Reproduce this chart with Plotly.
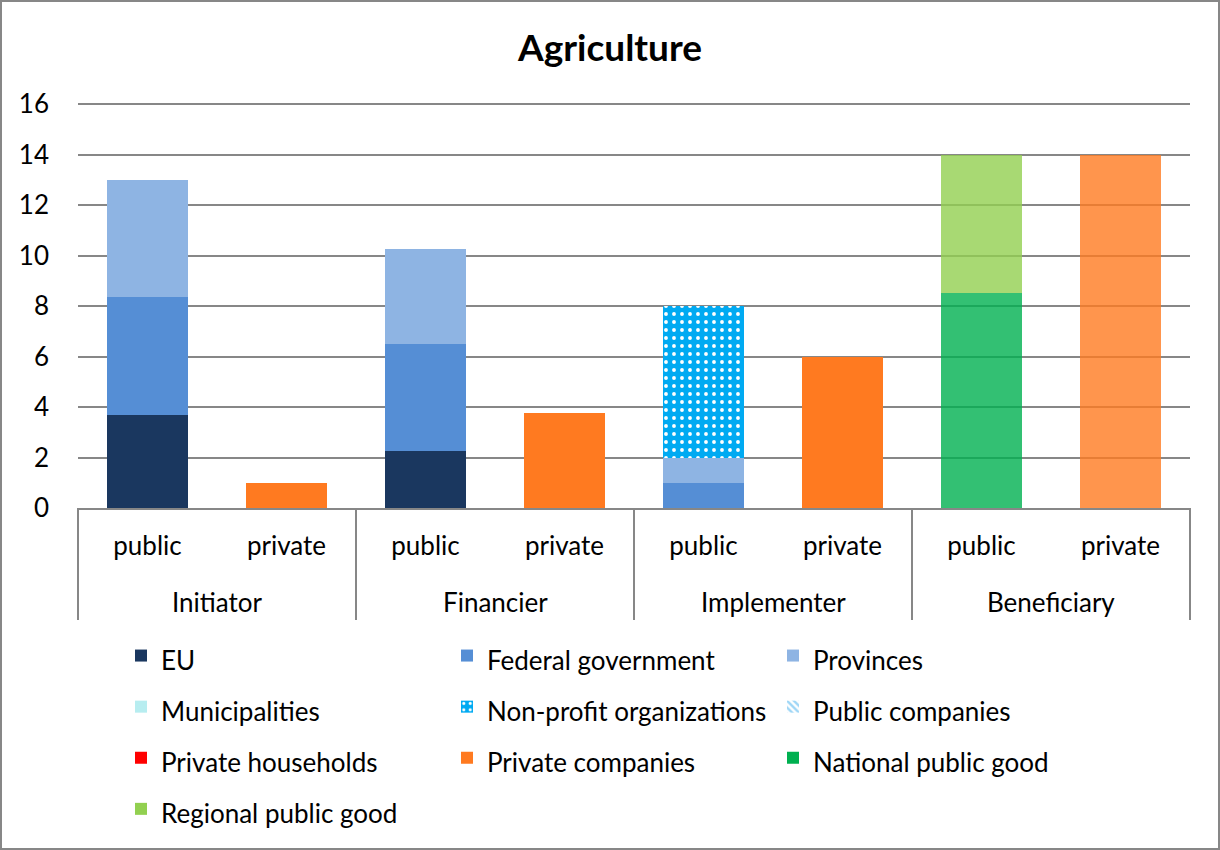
import plotly.graph_objects as go

# Roles and sectors (two-level category axis)
roles = ["Initiator", "Initiator", "Financier", "Financier",
         "Implementer", "Implementer", "Beneficiary", "Beneficiary"]
sectors = ["public", "private", "public", "private",
           "public", "private", "public", "private"]

# Stacked values per actor type
eu = [3.67, 0, 2.25, 0, 0, 0, 0, 0]
federal_government = [4.67, 0, 4.25, 0, 1, 0, 0, 0]
provinces = [4.67, 0, 3.75, 0, 1, 0, 0, 0]
municipalities = [0, 0, 0, 0, 0, 0, 0, 0]
non_profit = [0, 0, 0, 0, 6, 0, 0, 0]
public_companies = [0, 0, 0, 0, 0, 0, 0, 0]
private_households = [0, 0, 0, 0, 0, 0, 0, 0]
private_companies = [0, 1, 0, 3.75, 0, 6, 0, 14]
national_public_good = [0, 0, 0, 0, 0, 0, 8.5, 0]
regional_public_good = [0, 0, 0, 0, 0, 0, 5.5, 0]

y_ticks = [0, 2, 4, 6, 8, 10, 12, 14, 16]
Y_TOP = 16.08     # a little headroom so the top gridline is kept

W, H = 1220, 850
ML, MR, MT, MB = 78, 30, 102, 342
PW, PH = W - ML - MR, H - MT - MB

FONT = "Lato"
GRID = "#878787"
TXT = 26          # visible text size
LEG_ROW = 37      # legend font size that sets the row pitch


def px_to_paper_y(py):
    return (MT + PH - py) / PH


def px_to_paper_x(px):
    return (px - ML) / PW


# one unique key per bar slot, labelled with its sector
keys = [f"{r} {s}" for r, s in zip(roles, sectors)]
groups = list(dict.fromkeys(roles))
n_groups = len(groups)

fig = go.Figure()


def add(name, vals, color, opacity=1.0, pattern=None):
    marker = dict(color=color, opacity=opacity, line=dict(width=0))
    if pattern:
        marker["pattern"] = pattern
    fig.add_trace(go.Bar(
        name=f"<span style='font-size:{TXT}px'>{name}</span>",
        x=keys, y=vals, marker=marker,
        customdata=roles,
        hovertemplate="%{customdata}, %{x}: %{y}<extra>" + name + "</extra>"))


add("EU", eu, "#1A375F")
add("Federal government", federal_government, "#558ED5")
add("Provinces", provinces, "#8EB4E3")
add("Municipalities", municipalities, "#B7EDF0")
add("Non-profit organizations", non_profit, "#00AAF2",
    pattern=dict(shape=".", fgcolor="white", bgcolor="#00AAF2",
                 size=8, solidity=0.18, fillmode="replace"))
add("Public companies", public_companies, "#9ED6F6",
    pattern=dict(shape="\\", fgcolor="#9ED6F6", bgcolor="white",
                 size=6, solidity=0.5, fillmode="replace"))
add("Private households", private_households, "#FF0000")
add("Private companies", private_companies, "#FF7A20",
    opacity=[1, 1, 1, 1, 1, 1, 1, 0.8])
add("National public good", national_public_good, "#00B050", opacity=0.8)
add("Regional public good", regional_public_good, "#92D050", opacity=0.8)

# outer chart frame
fig.add_shape(type="rect", xref="paper", yref="paper",
              x0=px_to_paper_x(1), x1=px_to_paper_x(W - 1),
              y0=px_to_paper_y(H - 1), y1=px_to_paper_y(1),
              line=dict(color=GRID, width=2), fillcolor="rgba(0,0,0,0)",
              layer="below")

# group dividers and group labels under the sector labels
for i in range(n_groups + 1):
    fig.add_shape(type="line", xref="paper", yref="paper",
                  x0=i / n_groups, x1=i / n_groups,
                  y0=0, y1=px_to_paper_y(620),
                  line=dict(color=GRID, width=2))
for i, g in enumerate(groups):
    fig.add_annotation(text=g, xref="paper", yref="paper",
                       x=(i + 0.5) / n_groups, y=px_to_paper_y(602),
                       xanchor="center", yanchor="middle", showarrow=False,
                       font=dict(family=FONT, size=TXT, color="black"))

fig.update_layout(
    width=W, height=H,
    margin=dict(l=ML, r=MR, t=MT, b=MB, pad=0, autoexpand=False),
    paper_bgcolor="white", plot_bgcolor="white",
    barmode="stack", bargap=0.42,
    font=dict(family=FONT, size=TXT, color="black"),
    title=dict(text="<b>Agriculture</b>", x=0.5, xanchor="center",
               y=1 - 48 / H, yanchor="middle",
               font=dict(family=FONT, size=37, color="black")),
    xaxis=dict(type="category", tickvals=keys, ticktext=sectors,
               showline=True, linecolor=GRID, linewidth=2,
               showgrid=False, ticks="", ticklabelstandoff=14,
               tickfont=dict(family=FONT, size=TXT, color="black")),
    yaxis=dict(range=[0, Y_TOP], tickvals=y_ticks, showgrid=True,
               gridcolor=GRID, gridwidth=2, zeroline=False,
               showline=False, ticks="", ticklabelstandoff=28,
               tickfont=dict(family=FONT, size=TXT, color="black")),
    legend=dict(orientation="h", x=px_to_paper_x(121), xanchor="left",
                y=px_to_paper_y(625), yanchor="top", traceorder="normal",
                entrywidthmode="pixels", entrywidth=281,
                bgcolor="rgba(0,0,0,0)",
                font=dict(family=FONT, size=LEG_ROW, color="black"),
                itemclick=False, tracegroupgap=0),
    hoverlabel=dict(font_size=14),
)

fig.write_html("out.html")
